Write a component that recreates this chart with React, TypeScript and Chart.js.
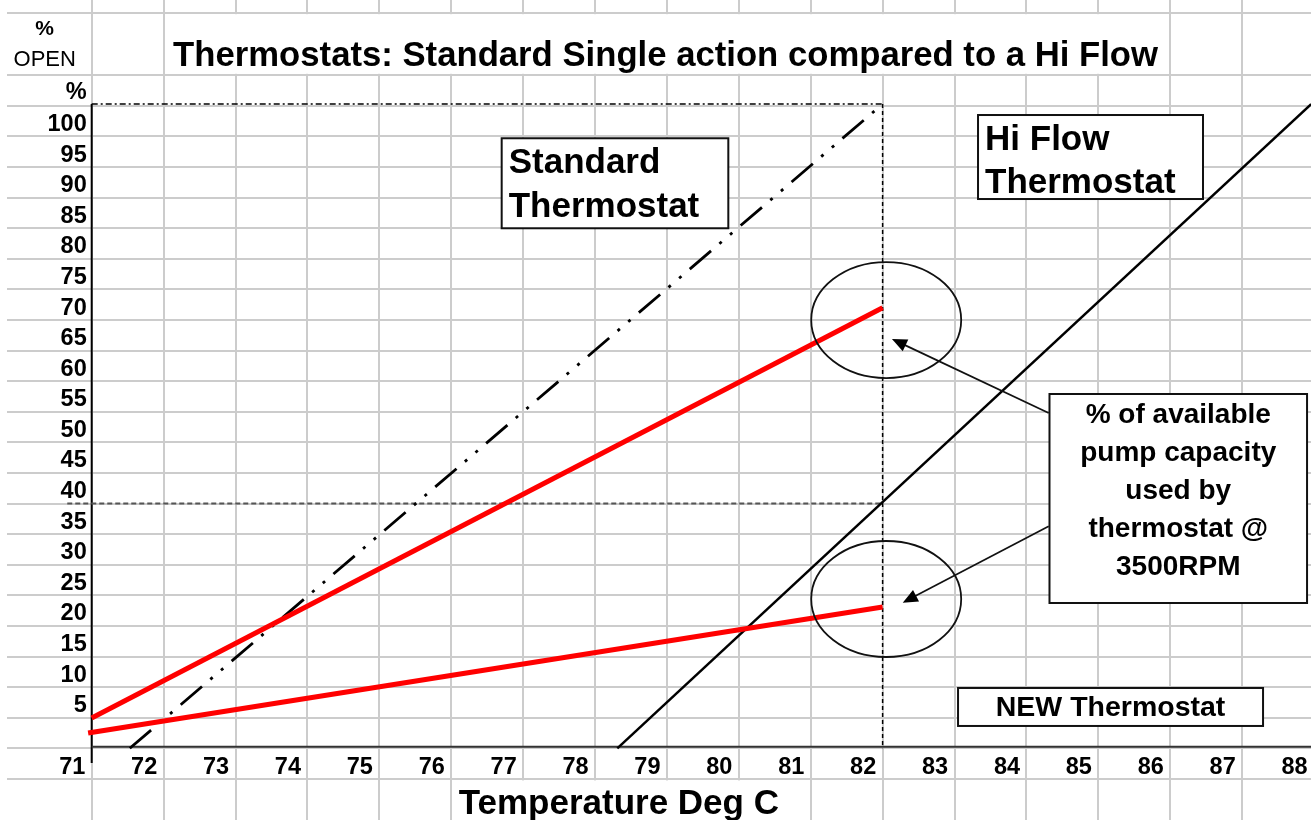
import React, { useEffect, useRef } from "react";
import { Chart, registerables } from "chart.js";

Chart.register(...registerables);

// ---- Data (sheet units: x = temperature °C, y = % open) ----
const X_TICK_LABELS = [71, 72, 73, 74, 75, 76, 77, 78, 79, 80, 81, 82, 83, 84, 85, 86, 87, 88];
const Y_TICK_LABELS = [5, 10, 15, 20, 25, 30, 35, 40, 45, 50, 55, 60, 65, 70, 75, 80, 85, 90, 95, 100];
const X_GRID = [71, 72, 73, 74, 75, 76, 77, 78, 79, 80, 81, 82, 83, 84, 85, 86, 87];
const Y_GRID = [-5, 0, 5, 10, 15, 20, 25, 30, 35, 40, 45, 50, 55, 60, 65, 70, 75, 80, 85, 90, 95, 100, 105, 110, 120.24];

const STANDARD_X = [71.53, 82.0];
const STANDARD_Y = [0, 105.3];
const HIFLOW_X = [78.31, 87.96];
const HIFLOW_Y = [0, 105.3];
const RED_UPPER_X = [71.0, 82.0];
const RED_UPPER_Y = [4.95, 72.0];
const RED_LOWER_X = [70.95, 82.0];
const RED_LOWER_Y = [2.5, 23.1];
const TOP_REF_X = [71, 82];
const TOP_REF_Y = [105.3, 105.3];
const VERT_REF_X = [82, 82];
const VERT_REF_Y = [105.3, 0];
const H40_X = [70.66, 82];
const H40_Y = [40, 40];

const TITLE = "Thermostats: Standard Single action compared to a Hi Flow";
const X_TITLE = "Temperature Deg C";
const BOX_STANDARD = ["Standard", "Thermostat"];
const BOX_HIFLOW = ["Hi Flow", "Thermostat"];
const BOX_PUMP = ["% of available", "pump capacity", "used by", "thermostat @", "3500RPM"];
const BOX_NEW = ["NEW Thermostat"];

// annotation anchors (data units)
const ELLIPSE_CENTERS_X = [82.05, 82.05];
const ELLIPSE_CENTERS_Y = [70.0, 24.4];
const ELLIPSE_RX = 1.043;
const ELLIPSE_RY = 9.48;
const ARROW_FROM_X = [84.31, 84.31];
const ARROW_FROM_Y = [54.8, 36.3];
const ARROW_TO_X = [82.13, 82.28];
const ARROW_TO_Y = [66.9, 23.8];

const FONT = '"Liberation Sans", Arial, Helvetica, sans-serif';

const pts = (xs: number[], ys: number[]) => xs.map((x, i) => ({ x, y: ys[i] }));

export default function App() {
  const ref = useRef<HTMLCanvasElement | null>(null);

  useEffect(() => {
    document.body.style.margin = "0";
    const canvas = ref.current!;

    const sheetPlugin = {
      id: "sheet",
      beforeDatasetsDraw(chart: any) {
        const ctx = chart.ctx;
        const xs = chart.scales.x;
        const ys = chart.scales.y;
        const px = (v: number) => xs.getPixelForValue(v);
        const py = (v: number) => ys.getPixelForValue(v);
        ctx.save();
        ctx.fillStyle = "#ffffff";
        // merged title cells
        ctx.fillRect(px(72) + 1.5, py(120.24) + 1.5, px(86) - px(72) - 3, py(110) - py(120.24) - 3);
        // overflow of x title
        ctx.fillRect(px(76) + 1.5, py(-5) + 1.5, px(81) - px(76) - 3, chart.height);
        // axes
        ctx.strokeStyle = "#000";
        ctx.lineWidth = 2;
        ctx.beginPath();
        ctx.moveTo(px(71), py(105.3));
        ctx.lineTo(px(71), py(-2.4));
        ctx.stroke();
        ctx.strokeStyle = "#333";
        ctx.beginPath();
        ctx.moveTo(px(71), py(0) - 1.5);
        ctx.lineTo(chart.width, py(0) - 1.5);
        ctx.stroke();
        ctx.restore();
      },
      afterDatasetsDraw(chart: any) {
        const ctx = chart.ctx;
        const xs = chart.scales.x;
        const ys = chart.scales.y;
        const px = (v: number) => xs.getPixelForValue(v);
        const py = (v: number) => ys.getPixelForValue(v);
        ctx.save();

        // ellipses
        ctx.strokeStyle = "#111";
        ctx.lineWidth = 1.8;
        ELLIPSE_CENTERS_X.forEach((cx, i) => {
          const cy = ELLIPSE_CENTERS_Y[i];
          const rx = px(cx + ELLIPSE_RX) - px(cx);
          const ry = py(cy) - py(cy + ELLIPSE_RY);
          ctx.beginPath();
          ctx.ellipse(px(cx), py(cy), rx, ry, 0, 0, Math.PI * 2);
          ctx.stroke();
        });

        // arrows
        ARROW_FROM_X.forEach((fx, i) => {
          const x0 = px(fx), y0 = py(ARROW_FROM_Y[i]);
          const x1 = px(ARROW_TO_X[i]), y1 = py(ARROW_TO_Y[i]);
          const ang = Math.atan2(y1 - y0, x1 - x0);
          const L = 15, W = 6.5;
          ctx.strokeStyle = "#111";
          ctx.lineWidth = 1.7;
          ctx.beginPath();
          ctx.moveTo(x0, y0);
          ctx.lineTo(x1 - Math.cos(ang) * L * 0.8, y1 - Math.sin(ang) * L * 0.8);
          ctx.stroke();
          ctx.fillStyle = "#000";
          ctx.beginPath();
          ctx.moveTo(x1, y1);
          ctx.lineTo(x1 - Math.cos(ang) * L - Math.sin(ang) * W, y1 - Math.sin(ang) * L + Math.cos(ang) * W);
          ctx.lineTo(x1 - Math.cos(ang) * L + Math.sin(ang) * W, y1 - Math.sin(ang) * L - Math.cos(ang) * W);
          ctx.closePath();
          ctx.fill();
        });

        // boxes
        const box = (x0: number, x1: number, yTop: number, yBot: number) => {
          const l = px(x0), r = px(x1), t = py(yTop), b = py(yBot);
          ctx.fillStyle = "#fff";
          ctx.fillRect(l, t, r - l, b - t);
          ctx.strokeStyle = "#111";
          ctx.lineWidth = 2;
          ctx.strokeRect(l, t, r - l, b - t);
          return { l, r, t, b };
        };

        let bb = box(76.702, 79.854, 99.71, 85.0);
        ctx.fillStyle = "#000";
        ctx.font = `bold 35px ${FONT}`;
        ctx.textAlign = "left";
        ctx.textBaseline = "alphabetic";
        BOX_STANDARD.forEach((s, i) => ctx.fillText(s, bb.l + 7, bb.t + 35 + i * 44));

        bb = box(83.327, 86.456, 103.51, 89.78);
        ctx.fillStyle = "#000";
        ctx.font = `bold 35px ${FONT}`;
        BOX_HIFLOW.forEach((s, i) => ctx.fillText(s, bb.l + 7, bb.t + 35 + i * 43));

        bb = box(84.321, 87.903, 57.91, 23.75);
        ctx.fillStyle = "#000";
        ctx.font = `bold 28px ${FONT}`;
        ctx.textAlign = "center";
        BOX_PUMP.forEach((s, i) => ctx.fillText(s, (bb.l + bb.r) / 2, bb.t + 29 + i * 38));

        bb = box(83.049, 87.291, 9.86, 3.65);
        ctx.fillStyle = "#000";
        ctx.font = `bold 28.5px ${FONT}`;
        BOX_NEW.forEach((s) => ctx.fillText(s, (bb.l + bb.r) / 2, bb.t + 28));

        // tick labels
        ctx.fillStyle = "#000";
        ctx.font = `bold 23.5px ${FONT}`;
        ctx.textAlign = "right";
        Y_TICK_LABELS.forEach((v) => ctx.fillText(String(v), px(71) - 5, py(v) - 5.5));
        X_TICK_LABELS.forEach((v) => ctx.fillText(String(v), px(v) - 6.4, py(0) + 25.5));
        ctx.fillText("%", px(71) - 5, py(105) - 7);

        // header
        ctx.textAlign = "center";
        ctx.font = `bold 21px ${FONT}`;
        ctx.fillText("%", px(71) - 47, py(110) - 40);
        ctx.font = `22px ${FONT}`;
        ctx.fillText("OPEN", px(71) - 47, py(110) - 9);

        ctx.textAlign = "left";
        ctx.font = `bold 34.7px ${FONT}`;
        ctx.fillText(TITLE, px(72) + 9.5, py(110) - 9);

        ctx.font = `bold 35px ${FONT}`;
        ctx.fillText(X_TITLE, px(76) + 7.5, py(-5) + 35);

        ctx.restore();
      },
    };

    const chart = new Chart(canvas, {
      type: "scatter",
      data: {
        datasets: [
          {
            label: "Red upper",
            data: pts(RED_UPPER_X, RED_UPPER_Y),
            borderColor: "#ff0000",
            borderWidth: 5,
            showLine: true,
            pointRadius: 0,
            order: 1,
          },
          {
            label: "Red lower",
            data: pts(RED_LOWER_X, RED_LOWER_Y),
            borderColor: "#ff0000",
            borderWidth: 5,
            showLine: true,
            pointRadius: 0,
            order: 2,
          },
          {
            label: "Standard Thermostat",
            data: pts(STANDARD_X, STANDARD_Y),
            borderColor: "#000",
            borderWidth: 2.8,
            borderDash: [28, 11, 3, 11, 3, 11],
            showLine: true,
            pointRadius: 0,
            order: 3,
          },
          {
            label: "Hi Flow Thermostat",
            data: pts(HIFLOW_X, HIFLOW_Y),
            borderColor: "#000",
            borderWidth: 2.5,
            showLine: true,
            pointRadius: 0,
            order: 4,
          },
          {
            label: "Top ref",
            data: pts(TOP_REF_X, TOP_REF_Y),
            borderColor: "#000",
            borderWidth: 1.4,
            borderDash: [6, 3, 2, 3],
            showLine: true,
            pointRadius: 0,
            order: 5,
          },
          {
            label: "82 ref",
            data: pts(VERT_REF_X, VERT_REF_Y),
            borderColor: "#000",
            borderWidth: 1.5,
            borderDash: [4, 3],
            showLine: true,
            pointRadius: 0,
            order: 6,
          },
          {
            label: "40 ref",
            data: pts(H40_X, H40_Y),
            borderColor: "#555",
            borderWidth: 2,
            borderDash: [5, 3],
            showLine: true,
            pointRadius: 0,
            order: 7,
          },
        ],
      },
      options: {
        responsive: false,
        animation: false,
        devicePixelRatio: 1,
        layout: { padding: 0 },
        plugins: { legend: { display: false }, tooltip: { enabled: false }, title: { display: false } },
        scales: {
          x: {
            type: "linear",
            min: 69.822,
            max: 87.958,
            ticks: { display: false },
            border: { display: false },
            grid: { color: "#cccccc", lineWidth: 2, drawTicks: false, tickLength: 0 },
            afterBuildTicks: (axis: any) => {
              axis.ticks = X_GRID.map((v) => ({ value: v }));
            },
          },
          y: {
            type: "linear",
            min: -11.72,
            max: 122.31,
            ticks: { display: false },
            border: { display: false },
            grid: { color: "#cccccc", lineWidth: 2, drawTicks: false, tickLength: 0 },
            afterBuildTicks: (axis: any) => {
              axis.ticks = Y_GRID.map((v) => ({ value: v }));
            },
          },
        },
      },
      plugins: [sheetPlugin],
    } as any);

    return () => chart.destroy();
  }, []);

  return (
    <div style={{ position: "relative", width: 1311, height: 820, background: "#fff", overflow: "hidden" }}>
      <canvas
        ref={ref}
        width={1304}
        height={820}
        style={{ position: "absolute", left: 7, top: 0, width: 1304, height: 820 }}
      />
    </div>
  );
}
